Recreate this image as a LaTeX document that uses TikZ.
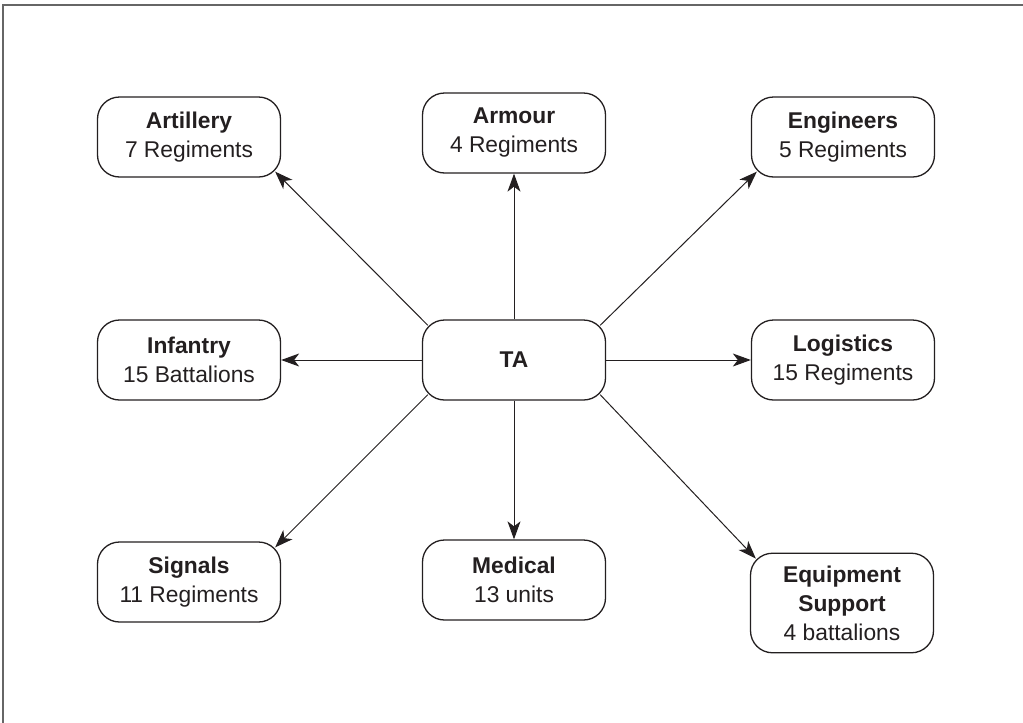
\documentclass[tikz,border=0pt]{standalone}
\usepackage{fontspec}
\setmainfont{Liberation Sans}
\usetikzlibrary{arrows.meta,calc}
\definecolor{ink}{HTML}{231F20}
\begin{document}
\begin{tikzpicture}[
  x=0.5pt, y=-0.5pt,
  unit/.style={draw=ink, line width=0.65pt, rounded corners=11pt, align=center, text=ink,
    font=\fontsize{11.4}{14.5}\selectfont, minimum width=91.5pt, minimum height=40pt, inner ysep=6.2pt},
  link/.style={draw=ink, line width=0.5pt, -{Stealth[length=9pt,width=6.5pt,inset=2.5pt]}}
]
\useasboundingbox (0,0) rectangle (1023,723);
\draw[gray!80!black, line width=1pt] (1023,5) -- (3,5) -- (3,723);

\node[unit] (ta) at (514,360) {\textbf{TA}};
\node[unit] (artillery) at (189,137) {\textbf{Artillery}\\7 Regiments};
\node[unit] (armour) at (514,133) {\textbf{Armour}\\4 Regiments};
\node[unit] (engineers) at (843,137) {\textbf{Engineers}\\5 Regiments};
\node[unit] (infantry) at (189,360) {\textbf{Infantry}\\15 Battalions};
\node[unit] (logistics) at (843,360) {\textbf{Logistics}\\15 Regiments};
\node[unit] (signals) at (189,582) {\textbf{Signals}\\11 Regiments};
\node[unit] (medical) at (514,580) {\textbf{Medical}\\13 units};
\node[unit] (equipment) at (842,603) {\textbf{Equipment}\\\textbf{Support}\\4 battalions};

\draw[link] (ta.north) -- (armour.south);
\draw[link] (ta.south) -- (medical.north);
\draw[link] (ta.west) -- (infantry.east);
\draw[link] (ta.east) -- (logistics.west);
\draw[link] ($(ta.north west)+(6,6)$) -- ($(artillery.south east)+(-6,-6)$);
\draw[link] ($(ta.north east)+(-6,6)$) -- ($(engineers.south west)+(6,-6)$);
\draw[link] ($(ta.south west)+(6,-6)$) -- ($(signals.north east)+(-6,6)$);
\draw[link] ($(ta.south east)+(-6,-6)$) -- ($(equipment.north west)+(6,6)$);
\end{tikzpicture}
\end{document}
